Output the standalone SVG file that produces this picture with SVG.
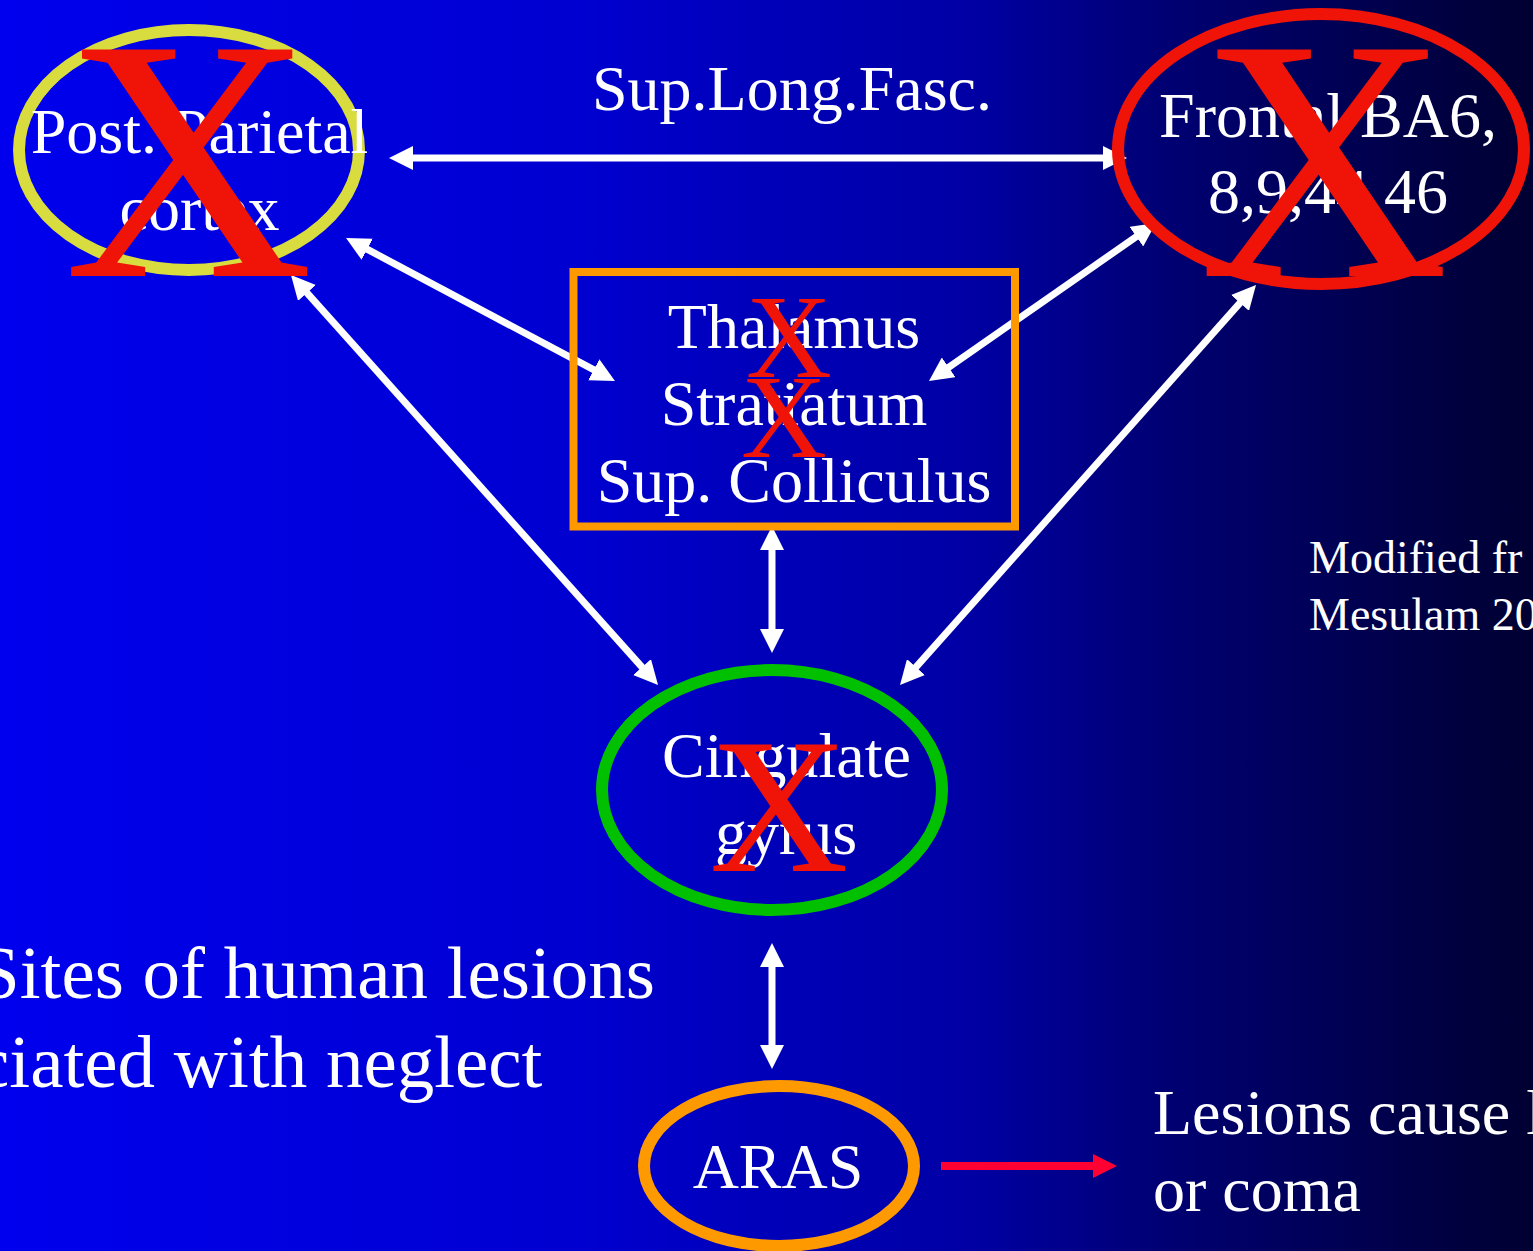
<svg xmlns="http://www.w3.org/2000/svg" width="1533" height="1251" viewBox="0 0 1533 1251">
<defs>
<linearGradient id="bg" x1="0" y1="0" x2="1" y2="0">
<stop offset="0" stop-color="#0000ee"/>
<stop offset="0.38" stop-color="#0000d0"/>
<stop offset="0.5" stop-color="#0000b9"/>
<stop offset="0.63" stop-color="#0000a5"/>
<stop offset="0.76" stop-color="#000073"/>
<stop offset="1" stop-color="#000032"/>
</linearGradient>
<marker id="ah" markerUnits="userSpaceOnUse" viewBox="0 0 24 24" markerWidth="24" markerHeight="24" refX="4" refY="12" orient="auto-start-reverse">
<path d="M0,0 L24,12 L0,24 z" fill="#ffffff"/>
</marker>
<style>
text{font-family:"Liberation Serif","Times New Roman",serif;fill:#ffffff}
.lbl{font-size:64px;text-anchor:middle}
.x{fill:#f01408;text-anchor:middle}
.conn{stroke:#ffffff;stroke-width:7;fill:none;marker-start:url(#ah);marker-end:url(#ah)}
</style>
</defs>
<rect x="0" y="0" width="1533" height="1251" fill="url(#bg)"/>

<g id="connectors">
<line class="conn" x1="409" y1="158" x2="1107" y2="158"/>
<line class="conn" x1="363.7" y1="247.4" x2="597.3" y2="371.6"/>
<line class="conn" x1="1139.6" y1="234.4" x2="945.4" y2="369.6"/>
<line class="conn" x1="304.3" y1="289.9" x2="644.7" y2="670.1"/>
<line class="conn" x1="1242.7" y1="299.9" x2="913.3" y2="670.1"/>
<line class="conn" x1="772" y1="546" x2="772" y2="633"/>
<line class="conn" x1="772" y1="963" x2="772" y2="1049"/>
<g id="red-arrow">
<line x1="941" y1="1166" x2="1096" y2="1166" stroke="#ff0033" stroke-width="8"/>
<polygon points="1093,1154 1117,1166 1093,1178" fill="#ff0033"/>
</g>
</g>

<text class="lbl" x="792" y="110">Sup.Long.Fasc.</text>

<g id="post-parietal">
<ellipse cx="189" cy="150" rx="170" ry="120" fill="none" stroke="#d9dc3f" stroke-width="12"/>
<text class="lbl" x="199.5" y="153">Post. Parietal</text>
<text class="lbl" x="199.5" y="230">cortex</text>
<text class="x" x="188.5" y="276" font-size="346">X</text>
</g>

<g id="frontal">
<ellipse cx="1321" cy="149" rx="203" ry="135" fill="none" stroke="#f01408" stroke-width="12"/>
<text class="lbl" x="1328" y="137">Frontal BA6,</text>
<text class="lbl" x="1328" y="213">8,9,44,46</text>
<text class="x" x="1324" y="276" font-size="346">X</text>
</g>

<g id="thalamus">
<rect x="573.5" y="272" width="441.5" height="254.5" fill="none" stroke="#ff9900" stroke-width="8"/>
<text class="lbl" x="794" y="348">Thalamus</text>
<text class="lbl" x="794" y="425">Stratiatum</text>
<text class="lbl" x="794" y="502">Sup. Colliculus</text>
<text class="x" x="789" y="377" font-size="119">X</text>
<text class="x" x="784" y="457" font-size="119">X</text>
</g>

<g id="cingulate">
<ellipse cx="772" cy="790" rx="170" ry="120" fill="none" stroke="#00c000" stroke-width="12"/>
<text class="lbl" x="786.5" y="777">Cingulate</text>
<text class="lbl" x="786" y="854">gyrus</text>
<text class="x" x="779" y="871" font-size="193">X</text>
</g>

<g id="aras">
<ellipse cx="779" cy="1166" rx="135" ry="80" fill="none" stroke="#ff9900" stroke-width="12"/>
<text class="lbl" x="778" y="1188">ARAS</text>
</g>

<g id="notes">
<text x="-22" y="998" font-size="75">Sites of human lesions</text>
<text x="-24" y="1087" font-size="75">ciated with neglect</text>
<text x="1153" y="1134" font-size="64">Lesions cause l</text>
<text x="1153" y="1211" font-size="64">or coma</text>
<text x="1309" y="573" font-size="46">Modified fr</text>
<text x="1309" y="630" font-size="46">Mesulam 20</text>
</g>
</svg>
